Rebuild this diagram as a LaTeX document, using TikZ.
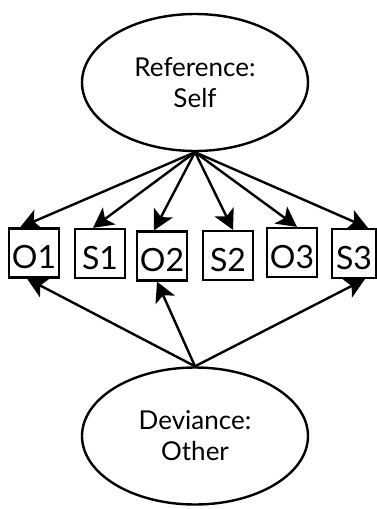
\documentclass[tikz,border=0pt]{standalone}
\usepackage{fontspec}
\setmainfont{Lato}
\usetikzlibrary{arrows.meta,shapes.geometric}

\begin{document}
\begin{tikzpicture}[x=1pt,y=-1pt,
  latent/.style={ellipse, draw, line width=2.4pt, minimum width=226pt,
    minimum height=137pt, inner sep=0pt, align=center,
    font=\fontsize{26}{31}\selectfont},
  indicator/.style={rectangle, draw, line width=2.2pt, minimum width=50pt,
    minimum height=49pt, inner sep=0pt, text height=31pt, text depth=0pt,
    font=\fontsize{32}{32}\selectfont},
  loading/.style={line width=2.4pt, -{Stealth[length=20pt,width=21pt,inset=5pt]}}]
\useasboundingbox (0,0) rectangle (377,509);

% latent factors
\node[latent] (ref) at (195,82.5) {Reference:\\Self};
\node[latent] (dev) at (195,436) {Deviance:\\Other};

% observed indicators
\node[indicator] (o1) at (34,253)    {O1};
\node[indicator] (s1) at (100,253.5) {S1};
\node[indicator] (o2) at (162,256)   {O2};
\node[indicator] (s2) at (228,255.5) {S2};
\node[indicator] (o3) at (292,252.5) {O3};
\node[indicator, minimum width=44pt] (s3) at (354,253.5) {S3};

% loadings of the self factor
\draw[loading] (ref.south) -- ([xshift=-14pt]o1.north);
\draw[loading] (ref.south) -- ([xshift=-7pt]s1.north);
\draw[loading] (ref.south) -- ([xshift=-8pt]o2.north);
\draw[loading] (ref.south) -- ([xshift=5pt]s2.north);
\draw[loading] (ref.south) -- ([xshift=5pt]o3.north);
\draw[loading] (ref.south) -- ([xshift=14pt]s3.north);

% loadings of the other factor
\draw[loading] (dev.north) -- ([xshift=-7pt]o1.south);
\draw[loading] (dev.north) -- ([xshift=-5pt]o2.south);
\draw[loading] (dev.north) -- ([xshift=11pt]s3.south);
\end{tikzpicture}
\end{document}
